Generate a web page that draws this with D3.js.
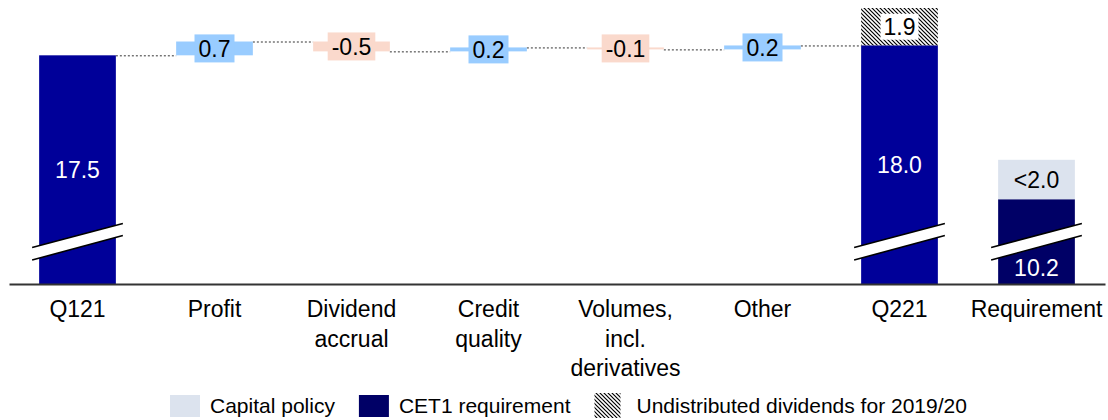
<!DOCTYPE html>
<html>
<head>
<meta charset="utf-8">
<script src="https://cdn.jsdelivr.net/npm/d3@7"></script>
<style>
  body { margin: 0; background: #fff; }
  text { font-family: "Liberation Sans", Arial, sans-serif; }
</style>
</head>
<body>
<div id="container"></div>
<script>
"use strict";

// data
const categories = ["Q121", "Profit", "Dividend accrual", "Credit quality",
  "Volumes, incl. derivatives", "Other", "Q221", "Requirement"];
const categoryLines = [["Q121"], ["Profit"], ["Dividend", "accrual"], ["Credit", "quality"],
  ["Volumes,", "incl.", "derivatives"], ["Other"], ["Q221"], ["Requirement"]];
const startValue = 17.5;
const deltaCategories = ["Profit", "Dividend accrual", "Credit quality", "Volumes, incl. derivatives", "Other"];
const deltas = [0.7, -0.5, 0.2, -0.1, 0.2];
const endValue = 18.0;
const undistributed = 1.9;
const cet1Requirement = 10.2;
const capitalPolicy = 2.0;
const capitalPolicyLabel = "<2.0";
const legendLabels = ["Capital policy", "CET1 requirement", "Undistributed dividends for 2019/20"];

const plotWidth = 1108;
const plotHeight = 420;
const baseline = 284;
const axisFloor = 5.9; // broken axis starts here

const qColor = "#000099";
const cet1Color = "#000066";
const policyColor = "#DCE3EE";
const posColor = "#99CCFF";
const negColor = "#FAD9CC";

const fmt = d3.formatLocale({ decimal: ".", thousands: ",", grouping: [3], currency: ["", ""], minus: "-" }).format(".1f");

const svg = d3.select("#container").append("svg")
  .attr("width", plotWidth)
  .attr("height", plotHeight);

// hatch pattern
svg.append("defs").append("pattern")
  .attr("id", "hatch")
  .attr("patternUnits", "userSpaceOnUse")
  .attr("width", 4).attr("height", 4)
  .append("path")
  .attr("d", "M-1,-1 L5,5 M-1,3 L1,5 M3,-1 L5,1")
  .attr("stroke", "#000")
  .attr("stroke-width", 1.2);

const xScale = d3.scaleBand()
  .domain(categories)
  .range([9, 1105])
  .paddingInner(0.44)
  .paddingOuter(0.22);
const bw = xScale.bandwidth();

const yScale = d3.scaleLinear()
  .domain([axisFloor, 19.9])
  .range([baseline, 8]);

// waterfall steps
let running = startValue;
const steps = deltas.map((d, i) => {
  const s = { cat: deltaCategories[i], from: running, to: running + d, value: d };
  running += d;
  return s;
});

// connectors
const connectors = [];
connectors.push({ x1: xScale("Q121") + bw, x2: xScale(steps[0].cat), v: startValue });
steps.forEach((s, i) => {
  const next = i < steps.length - 1 ? xScale(steps[i + 1].cat) : xScale("Q221");
  connectors.push({ x1: xScale(s.cat) + bw, x2: next, v: s.to });
});
svg.selectAll("line.conn")
  .data(connectors)
  .enter().append("line")
  .attr("class", "conn")
  .attr("x1", (d) => d.x1)
  .attr("x2", (d) => d.x2)
  .attr("y1", (d) => yScale(d.v) + 0.5)
  .attr("y2", (d) => yScale(d.v) + 0.5)
  .attr("stroke", "#333")
  .attr("stroke-width", 1)
  .attr("stroke-dasharray", "2,2");

// Q121 / Q221 bars
const totals = [{ cat: "Q121", v: startValue }, { cat: "Q221", v: endValue }];
svg.selectAll("rect.total")
  .data(totals)
  .enter().append("rect")
  .attr("class", "total")
  .attr("x", (d) => xScale(d.cat))
  .attr("width", bw)
  .attr("y", (d) => yScale(d.v))
  .attr("height", (d) => baseline - yScale(d.v))
  .attr("fill", qColor);

// undistributed dividends (hatched)
svg.append("rect")
  .attr("x", xScale("Q221"))
  .attr("width", bw)
  .attr("y", yScale(endValue + undistributed))
  .attr("height", yScale(endValue) - yScale(endValue + undistributed))
  .attr("fill", "url(#hatch)");

// requirement
svg.append("rect")
  .attr("x", xScale("Requirement"))
  .attr("width", bw)
  .attr("y", yScale(cet1Requirement))
  .attr("height", baseline - yScale(cet1Requirement))
  .attr("fill", cet1Color);
svg.append("rect")
  .attr("x", xScale("Requirement"))
  .attr("width", bw)
  .attr("y", yScale(cet1Requirement + capitalPolicy))
  .attr("height", yScale(cet1Requirement) - yScale(cet1Requirement + capitalPolicy))
  .attr("fill", policyColor);

// delta bars
svg.selectAll("rect.delta")
  .data(steps)
  .enter().append("rect")
  .attr("class", "delta")
  .attr("x", (d) => xScale(d.cat))
  .attr("width", bw)
  .attr("y", (d) => yScale(Math.max(d.from, d.to)))
  .attr("height", (d) => Math.abs(yScale(d.from) - yScale(d.to)))
  .attr("fill", (d) => (d.value >= 0 ? posColor : negColor));

// labels with background boxes
const boxLabel = (cx, cy, txt, bg, padX, boxH) => {
  const g = svg.append("g").attr("transform", `translate(${cx},${cy})`);
  const rect = g.append("rect").attr("fill", bg);
  const t = g.append("text")
    .attr("text-anchor", "middle")
    .attr("dy", "0.36em")
    .style("font-size", "23px")
    .attr("fill", "#000")
    .text(txt);
  const w = t.node().getComputedTextLength();
  rect.attr("x", -w / 2 - padX).attr("width", w + padX * 2)
    .attr("y", -boxH / 2).attr("height", boxH);
};

steps.forEach((s) => {
  const cy = (yScale(s.from) + yScale(s.to)) / 2;
  boxLabel(xScale(s.cat) + bw / 2, cy, fmt(s.value),
    s.value >= 0 ? posColor : negColor, 4, 28);
});

const hatchMid = (yScale(endValue) + yScale(endValue + undistributed)) / 2;
boxLabel(xScale("Q221") + bw / 2, hatchMid, fmt(undistributed), "#fff", 3, 26);

// break marks
["Q121", "Q221", "Requirement"].forEach((c) => {
  const xl = xScale(c) - 7;
  const xr = xScale(c) + bw + 7;
  const pts = [[xl, baseline - 36.5], [xr, baseline - 60.5], [xr, baseline - 48.5], [xl, baseline - 24]];
  svg.append("polygon")
    .attr("points", pts.map((p) => p.join(",")).join(" "))
    .attr("fill", "#fff");
  svg.append("line")
    .attr("x1", pts[0][0]).attr("y1", pts[0][1])
    .attr("x2", pts[1][0]).attr("y2", pts[1][1])
    .attr("stroke", "#000").attr("stroke-width", 1.6);
  svg.append("line")
    .attr("x1", pts[3][0]).attr("y1", pts[3][1])
    .attr("x2", pts[2][0]).attr("y2", pts[2][1])
    .attr("stroke", "#000").attr("stroke-width", 1.6);
});

// value labels in bars
const barLabel = (cx, cy, txt, color) => {
  svg.append("text")
    .attr("x", cx).attr("y", cy)
    .attr("dy", "0.36em")
    .attr("text-anchor", "middle")
    .style("font-size", "23px")
    .attr("fill", color)
    .text(txt);
};
barLabel(xScale("Q121") + bw / 2, (yScale(startValue) + baseline) / 2, fmt(startValue), "#fff");
barLabel(xScale("Q221") + bw / 2, (yScale(endValue) + baseline) / 2, fmt(endValue), "#fff");
barLabel(xScale("Requirement") + bw / 2, baseline - 16, fmt(cet1Requirement), "#fff");
barLabel(xScale("Requirement") + bw / 2,
  (yScale(cet1Requirement) + yScale(cet1Requirement + capitalPolicy)) / 2, capitalPolicyLabel, "#000");

// x axis
const xAxis = d3.axisBottom(xScale).tickSize(0).tickSizeOuter(0);
svg.append("g")
  .attr("id", "x-axis")
  .attr("transform", `translate(0, ${baseline})`)
  .call(xAxis)
  .call((g) => g.select(".domain").attr("stroke", "#333").attr("stroke-width", 2))
  .call((g) => g.selectAll(".tick text")
    .attr("y", 0)
    .attr("dy", null)
    .style("font-size", "23px")
    .style("font-family", "\"Liberation Sans\", Arial, sans-serif")
    .attr("fill", "#000")
    .each(function (d) {
      const lines = categoryLines[categories.indexOf(d)];
      const t = d3.select(this).text(null);
      lines.forEach((l, i) => {
        t.append("tspan").attr("x", 0).attr("y", 33 + i * 29.5).text(l);
      });
    }));

// legend
const legendFills = [policyColor, cet1Color, "url(#hatch)"];
const legend = svg.append("g").attr("transform", "translate(170, 395)");
let lx = 0;
legendLabels.forEach((lab, i) => {
  const isHatch = i === 2;
  legend.append("rect")
    .attr("x", lx)
    .attr("y", isHatch ? -2 : 0)
    .attr("width", isHatch ? 26 : 30)
    .attr("height", isHatch ? 25 : 22)
    .attr("fill", legendFills[i]);
  const t = legend.append("text")
    .attr("x", lx + (isHatch ? 42 : 40))
    .attr("y", 10)
    .attr("dy", "0.36em")
    .style("font-size", "21px")
    .attr("fill", "#000")
    .text(lab);
  lx += (isHatch ? 42 : 40) + t.node().getComputedTextLength() + 24;
});
</script>
</body>
</html>
